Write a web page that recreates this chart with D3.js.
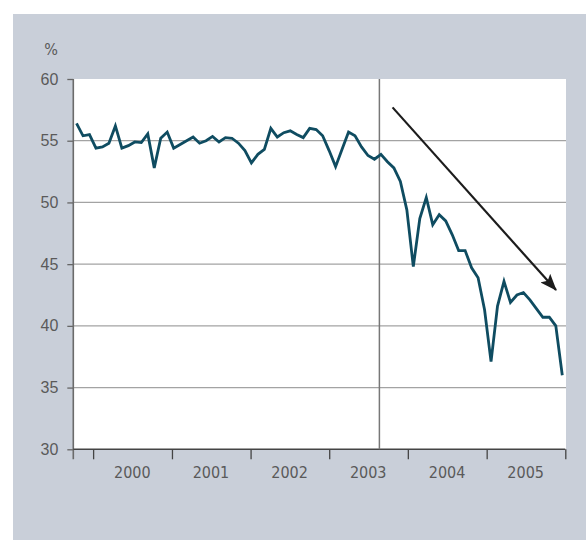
<!DOCTYPE html>
<html>
<head>
<meta charset="utf-8">
<script src="https://cdn.jsdelivr.net/npm/d3@7"></script>
<style>
    body { margin: 0; background: #fff; }
    #svgContainer { width: 586px; height: 540px; }
</style>
</head>
<body>
<div id="svgContainer"></div>
<script>
// monthly share, %, first point mid Oct 1999, last point mid Dec 2005
const values = [
    56.4, 55.4, 55.5, 54.4, 54.5, 54.8, 56.2, 54.4, 54.6, 54.9,
    54.85, 55.55, 52.8, 55.2, 55.7, 54.4, 54.7, 55.0, 55.3, 54.8,
    55.0, 55.35, 54.9, 55.25, 55.2, 54.8, 54.2, 53.2, 53.9, 54.3,
    56.0, 55.3, 55.65, 55.8, 55.5, 55.25, 56.0, 55.9, 55.4, 54.2,
    52.9, 54.3, 55.7, 55.4, 54.5, 53.8, 53.5, 53.9, 53.3, 52.8,
    51.7, 49.4, 44.8, 48.7, 50.4, 48.2, 49.0, 48.5, 47.4, 46.1,
    46.1, 44.7, 43.9, 41.3, 37.1, 41.6, 43.6, 41.9, 42.5, 42.7,
    42.1, 41.4, 40.7, 40.7, 40.0, 36.0
];
const firstPoint = new Date(1999, 9, 16);
const lastPoint = new Date(2005, 11, 18);

const yTicks = [30, 35, 40, 45, 50, 55, 60];
const yearLabels = ["2000", "2001", "2002", "2003", "2004", "2005"];
const xDomain = [new Date(1999, 9, 1), new Date(2006, 0, 1)];
const markerDate = new Date(2003, 7, 22);
const trendArrow = [
    { date: new Date(2003, 9, 22), value: 57.7 },
    { date: new Date(2005, 10, 19), value: 42.9 }
];

class TrendChart {

    constructor() {
        this._W = 586;
        this._H = 540;
        this._margin = { left: 73.3, right: 565.3, top: 79, bottom: 449.3 };
        this._SVG("svgContainer")
            ._scales()
            ._background()
            ._grid()
            ._axes()
            ._marks();
    }

    _SVG(container) {
        this._svg = d3.select("#" + container).append("svg")
            .attr("width", this._W)
            .attr("height", this._H)
            .attr("viewBox", "0 0 " + this._W + " " + this._H)
            .style("display", "block")
            .style("font-family", "'Liberation Sans Narrow', 'DejaVu Sans Condensed', sans-serif");
        return this;
    }

    _scales() {
        const m = this._margin;
        this._x = d3.scaleTime().domain(xDomain).range([m.left, m.right]);
        this._y = d3.scaleLinear().domain([30, 60]).range([m.bottom, m.top]);
        this._px = d3.scaleLinear()
            .domain([0, values.length - 1])
            .range([this._x(firstPoint), this._x(lastPoint)]);
        return this;
    }

    _background() {
        const m = this._margin;
        this._svg.append("rect")
            .attr("x", 13).attr("y", 14)
            .attr("width", this._W - 13).attr("height", this._H - 14)
            .attr("fill", "#c9cfd9");
        this._svg.append("rect")
            .attr("x", m.left).attr("y", m.top)
            .attr("width", 566 - m.left).attr("height", m.bottom - m.top)
            .attr("fill", "#fff");
        return this;
    }

    _grid() {
        const y = this._y;
        this._svg.append("g")
            .selectAll("line")
            .data(yTicks.filter(d => d > 30 && d < 60))
            .enter().append("line")
            .attr("x1", this._margin.left).attr("x2", 566)
            .attr("y1", d => y(d)).attr("y2", d => y(d))
            .attr("stroke", "#a3a3a3")
            .attr("stroke-width", 1.2);
        return this;
    }

    _axes() {
        const m = this._margin, x = this._x, y = this._y, svg = this._svg;

        const yAxis = svg.append("g")
            .attr("transform", "translate(" + m.left + ",0)")
            .call(d3.axisLeft(y).tickValues(yTicks).tickSize(6).tickPadding(9));
        yAxis.select(".domain").remove();
        yAxis.selectAll("line").attr("stroke", "#666").attr("stroke-width", 1.3);
        yAxis.selectAll("text")
            .attr("fill", "#5a5a5a")
            .style("font-size", "16px")
            .style("font-family", "inherit");

        svg.append("line")
            .attr("x1", m.left).attr("x2", m.left)
            .attr("y1", m.top).attr("y2", m.bottom + 10)
            .attr("stroke", "#6b6b6b").attr("stroke-width", 1.6);

        svg.append("text")
            .attr("x", 51).attr("y", 55)
            .attr("text-anchor", "middle")
            .attr("fill", "#5a5a5a")
            .style("font-size", "16px")
            .text("%");

        const yearStarts = d3.range(2000, 2007).map(yr => new Date(yr, 0, 1));
        const xAxis = svg.append("g")
            .attr("transform", "translate(0," + m.bottom + ")")
            .call(d3.axisBottom(x).tickValues(yearStarts).tickSize(10).tickFormat(""));
        xAxis.select(".domain")
            .attr("d", "M" + m.left + ",0H" + m.right)
            .attr("stroke", "#444").attr("stroke-width", 1.5);
        xAxis.selectAll(".tick line").attr("stroke", "#444").attr("stroke-width", 1.3);

        svg.append("g")
            .selectAll("text")
            .data(yearLabels)
            .enter().append("text")
            .attr("x", d => x(new Date(+d, 6, 1)))
            .attr("y", m.bottom + 29)
            .attr("text-anchor", "middle")
            .attr("fill", "#5a5a5a")
            .style("font-size", "16px")
            .text(d => d);
        return this;
    }

    _marks() {
        const x = this._x, y = this._y, px = this._px, svg = this._svg;

        svg.append("line")
            .attr("x1", x(markerDate)).attr("x2", x(markerDate))
            .attr("y1", this._margin.top).attr("y2", this._margin.bottom)
            .attr("stroke", "#777").attr("stroke-width", 1.5);

        const line = d3.line()
            .x((d, i) => px(i))
            .y(d => y(d));
        svg.append("path")
            .datum(values)
            .attr("fill", "none")
            .attr("stroke", "#0f4c61")
            .attr("stroke-width", 2.8)
            .attr("stroke-linejoin", "miter")
            .attr("d", line);

        svg.append("defs").append("marker")
            .attr("id", "head")
            .attr("viewBox", "0 0 17 13")
            .attr("refX", 16).attr("refY", 6.5)
            .attr("markerWidth", 17).attr("markerHeight", 13)
            .attr("markerUnits", "userSpaceOnUse")
            .attr("orient", "auto")
            .append("path")
            .attr("d", "M0,0L17,6.5L0,13L3.5,6.5Z")
            .attr("fill", "#1c1c1c");

        svg.append("line")
            .attr("x1", x(trendArrow[0].date)).attr("y1", y(trendArrow[0].value))
            .attr("x2", x(trendArrow[1].date)).attr("y2", y(trendArrow[1].value))
            .attr("stroke", "#1c1c1c")
            .attr("stroke-width", 2.2)
            .attr("marker-end", "url(#head)");
    }
}

new TrendChart();
</script>
</body>
</html>
